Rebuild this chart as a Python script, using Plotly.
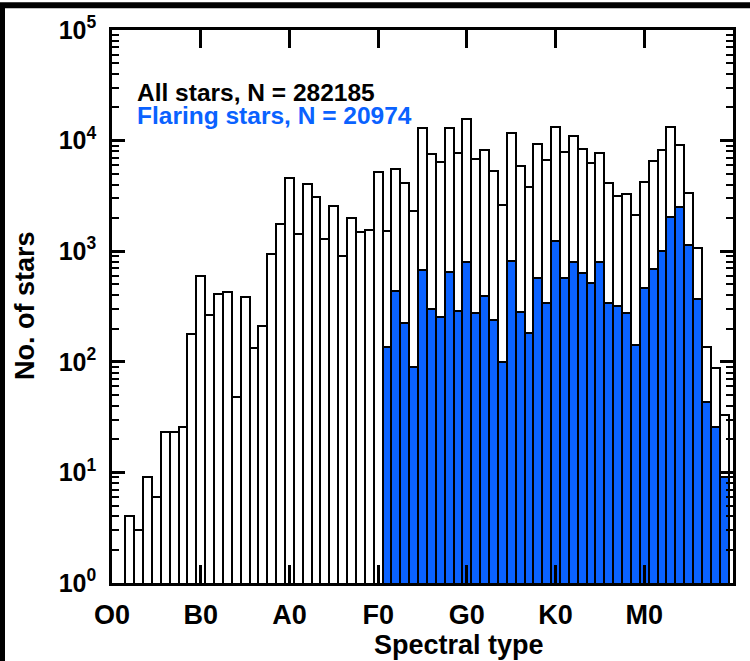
import plotly.graph_objects as go

# ---- data ----
class_labels = ["O0", "B0", "A0", "F0", "G0", "K0", "M0"]
class_positions = [0, 10, 20, 30, 40, 50, 60]

subtypes_all = list(range(2, 70))
n_all = [4, 3, 9, 6, 23, 23, 26, 180,
         594, 264, 412, 427, 48, 383, 132, 210, 942, 1778,
         4590, 1425, 4090, 3080, 1285, 2580, 911, 2010, 1497, 1560,
         5170, 1517, 5570, 4120, 2310, 12900, 7600, 6440, 13100, 7710,
         15700, 6810, 8200, 5280, 2590, 11800, 5930, 3790, 9340, 6630,
         13400, 7820, 10900, 8370, 6270, 7710, 4150, 3150, 3300, 2130,
         4240, 6490, 8150, 13400, 9040, 3370, 1060, 137, 88, 33]

subtypes_flare = list(range(31, 70))
n_flare = [135, 436, 226, 89, 677, 302, 255, 645, 288,
           794, 278, 390, 238, 100, 822, 282, 183, 574, 340,
           1225, 570, 794, 636, 521, 805, 340, 318, 278, 142,
           463, 691, 1010, 2040, 2510, 1143, 367, 43, 26, 9]

label_all = "All stars, N = 282185"
label_flare = "Flaring stars, N = 20974"

BLUE = "#0a62ff"
FONT = "Liberation Sans, Arial, sans-serif"

W, H = 750, 661
L, R, T, B = 112, 733, 26, 583  # plot area in pixels

fig = go.Figure()
fig.add_trace(go.Bar(x=subtypes_all, y=n_all, width=1,
                     marker=dict(color="white", line=dict(color="black", width=2)),
                     showlegend=False, hoverinfo="skip"))
fig.add_trace(go.Bar(x=subtypes_flare, y=n_flare, width=1,
                     marker=dict(color=BLUE, line=dict(color="black", width=2)),
                     showlegend=False, hoverinfo="skip"))

minor_y = [m * 10 ** e for e in range(0, 5) for m in range(2, 10)]

fig.update_layout(
    width=W, height=H,
    margin=dict(l=L, r=W - R, t=T, b=H - B, pad=0),
    paper_bgcolor="white", plot_bgcolor="white",
    barmode="overlay", bargap=0,
    font=dict(family=FONT, color="black", size=24, weight="bold"),
)

fig.update_xaxes(
    range=[0, 70], showgrid=False, zeroline=False,
    showline=True, linecolor="black", linewidth=2.5, mirror="allticks",
    ticks="inside", ticklen=18, tickwidth=2.5, tickcolor="black",
    tickmode="array", tickvals=class_positions, ticktext=class_labels,
    tickfont=dict(family=FONT, size=27, color="black", weight="bold"),
    ticklabelstandoff=6,
)
fig.update_yaxes(
    type="log", range=[0, 5], showgrid=False, zeroline=False,
    showline=True, linecolor="black", linewidth=2.5, mirror="allticks",
    ticks="inside", ticklen=13, tickwidth=2.5, tickcolor="black",
    tickmode="array", tickvals=[1, 10, 100, 1000, 10000, 100000],
    ticktext=["10<sup>%d</sup>" % e for e in range(6)],
    tickfont=dict(family=FONT, size=25, color="black", weight="bold"),
    ticklabelstandoff=8,
    minor=dict(ticks="inside", ticklen=7, tickwidth=2, tickcolor="black",
               tickmode="array", tickvals=minor_y, showgrid=False),
)

def px_x(p):
    return (p - L) / (R - L)

def px_y(p):
    return (B - p) / (B - T)

# axis titles and legend text
fig.add_annotation(text="Spectral type", xref="paper", yref="paper",
                   x=px_x(459), y=px_y(645), showarrow=False,
                   xanchor="center", yanchor="middle",
                   font=dict(family=FONT, size=27, color="black", weight="bold"))
fig.add_annotation(text="No. of stars", xref="paper", yref="paper",
                   x=px_x(25), y=px_y(303), showarrow=False, textangle=-90,
                   xanchor="center", yanchor="middle",
                   font=dict(family=FONT, size=27, color="black", weight="bold"))
fig.add_annotation(text=label_all, xref="paper", yref="paper",
                   x=px_x(135), y=px_y(89), showarrow=False,
                   xanchor="left", yanchor="middle",
                   font=dict(family=FONT, size=24.5, color="black", weight="bold"))
fig.add_annotation(text=label_flare, xref="paper", yref="paper",
                   x=px_x(135), y=px_y(112), showarrow=False,
                   xanchor="left", yanchor="middle",
                   font=dict(family=FONT, size=24.5, color=BLUE, weight="bold"))

# black frame strips (top and left) seen in the reference image
fig.add_shape(type="rect", xref="paper", yref="paper",
              x0=px_x(0), x1=px_x(W), y0=px_y(4), y1=px_y(-2),
              fillcolor="black", line=dict(width=0), layer="above")
fig.add_shape(type="rect", xref="paper", yref="paper",
              x0=px_x(-2), x1=px_x(5), y0=px_y(H + 2), y1=px_y(0),
              fillcolor="black", line=dict(width=0), layer="above")

fig.write_html("out.html", config={"displayModeBar": False})
